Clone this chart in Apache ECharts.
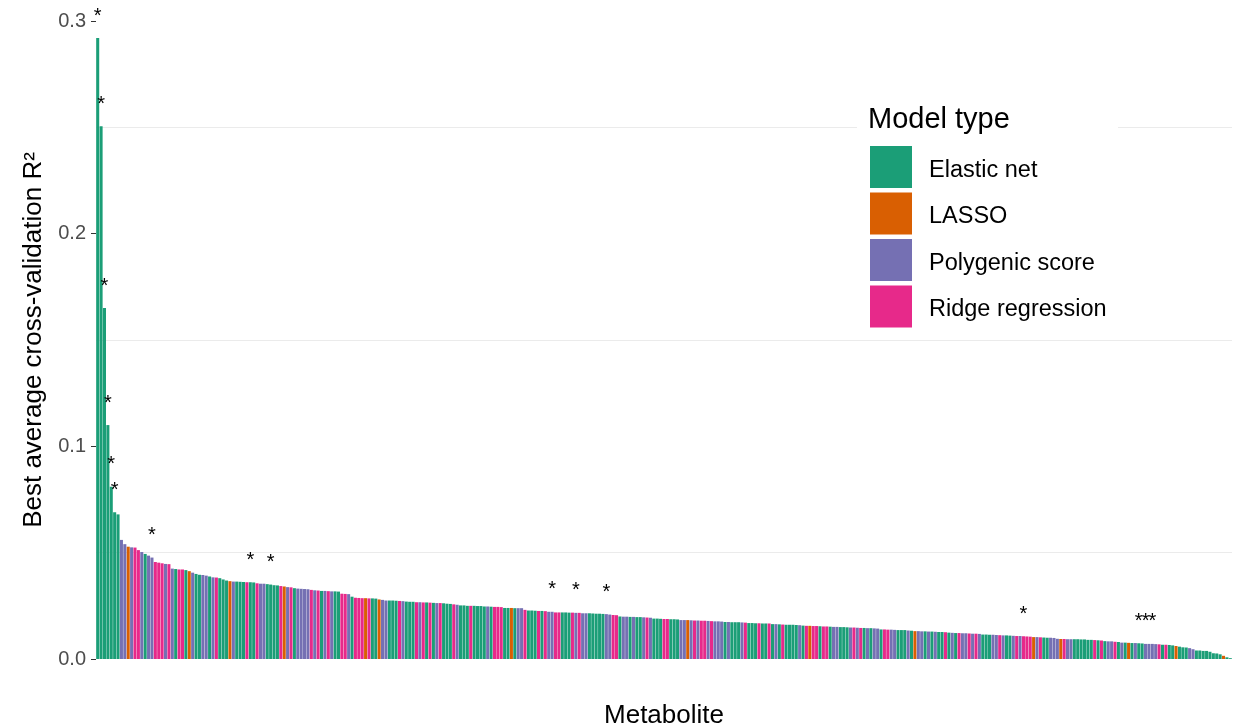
<!DOCTYPE html>
<html lang="en">
<head>
<meta charset="UTF-8">
<title>Best average cross-validation R2 by metabolite</title>
<script src="https://cdn.jsdelivr.net/npm/echarts@6/dist/echarts.min.js"></script>
<style>html, body { margin: 0; padding: 0; background: #fff; }</style>
</head>
<body>
<div id="main" style="width: 1236px; height: 727px;"></div>

<script type="text/javascript">
    // best cv R2 per metabolite, sorted descending
    var values = [
        0.292, 0.2505, 0.165, 0.110, 0.081, 0.069, 0.068, 0.056, 0.054, 0.0528,
        0.0525, 0.0524, 0.0512, 0.0503, 0.0494, 0.0486, 0.0477, 0.0456, 0.0453, 0.0450,
        0.0447, 0.0446, 0.0425, 0.0423, 0.0421, 0.0421, 0.0418, 0.0413, 0.0406, 0.0400,
        0.0396, 0.0395, 0.0392, 0.0388, 0.0384, 0.0383, 0.0380, 0.0374, 0.0369, 0.0366,
        0.0364, 0.0364, 0.0363, 0.0362, 0.0361, 0.0361, 0.0360, 0.0356, 0.0354, 0.0354,
        0.0352, 0.0350, 0.0347, 0.0346, 0.0343, 0.0341, 0.0338, 0.0337, 0.0333, 0.0331,
        0.0330, 0.0329, 0.0328, 0.0325, 0.0323, 0.0322, 0.0320, 0.0320, 0.0319, 0.0318,
        0.0318, 0.0317, 0.0307, 0.0306, 0.0305, 0.0293, 0.0288, 0.0287, 0.0286, 0.0286,
        0.0285, 0.0285, 0.0284, 0.0280, 0.0278, 0.0275, 0.0275, 0.0275, 0.0274, 0.0273,
        0.0272, 0.0270, 0.0269, 0.0269, 0.0267, 0.0267, 0.0266, 0.0266, 0.0265, 0.0264,
        0.0263, 0.0263, 0.0262, 0.0260, 0.0259, 0.0257, 0.0255, 0.0252, 0.0252, 0.0250,
        0.0250, 0.0250, 0.0249, 0.0249, 0.0247, 0.0247, 0.0246, 0.0245, 0.0245, 0.0244,
        0.0240, 0.0240, 0.0240, 0.0239, 0.0239, 0.0239, 0.0231, 0.0228, 0.0228, 0.0227,
        0.0226, 0.0226, 0.0225, 0.0222, 0.0222, 0.0219, 0.0219, 0.0219, 0.0219, 0.0218,
        0.0218, 0.0217, 0.0217, 0.0215, 0.0215, 0.0215, 0.0214, 0.0213, 0.0213, 0.0212,
        0.0211, 0.0209, 0.0207, 0.0206, 0.0200, 0.0199, 0.0199, 0.0198, 0.0198, 0.0197,
        0.0197, 0.0196, 0.0195, 0.0194, 0.0190, 0.0190, 0.0189, 0.0188, 0.0188, 0.0187,
        0.0187, 0.0186, 0.0183, 0.0183, 0.0183, 0.0182, 0.0181, 0.0181, 0.0180, 0.0180,
        0.0179, 0.0178, 0.0177, 0.0177, 0.0176, 0.0174, 0.0174, 0.0173, 0.0173, 0.0173,
        0.0172, 0.0171, 0.0169, 0.0169, 0.0168, 0.0168, 0.0167, 0.0167, 0.0167, 0.0164,
        0.0164, 0.0163, 0.0162, 0.0161, 0.0161, 0.0161, 0.0160, 0.0159, 0.0157, 0.0156,
        0.0156, 0.0155, 0.0155, 0.0154, 0.0153, 0.0153, 0.0152, 0.0151, 0.0151, 0.0150,
        0.0150, 0.0149, 0.0148, 0.0148, 0.0147, 0.0146, 0.0146, 0.0145, 0.0145, 0.0144,
        0.0143, 0.0139, 0.0139, 0.0138, 0.0138, 0.0137, 0.0136, 0.0136, 0.0136, 0.0134,
        0.0133, 0.0131, 0.0131, 0.0130, 0.0130, 0.0129, 0.0129, 0.0128, 0.0127, 0.0127,
        0.0126, 0.0124, 0.0123, 0.0122, 0.0122, 0.0121, 0.0121, 0.0120, 0.0119, 0.0119,
        0.0118, 0.0115, 0.0115, 0.0114, 0.0114, 0.0113, 0.0112, 0.0111, 0.0111, 0.0110,
        0.0109, 0.0108, 0.0108, 0.0107, 0.0106, 0.0105, 0.0103, 0.0103, 0.0102, 0.0101,
        0.0100, 0.0100, 0.0099, 0.0095, 0.0094, 0.0094, 0.0093, 0.0093, 0.0093, 0.0093,
        0.0092, 0.0092, 0.0090, 0.0090, 0.0089, 0.0088, 0.0087, 0.0084, 0.0083, 0.0083,
        0.0081, 0.0080, 0.0077, 0.0077, 0.0076, 0.0075, 0.0075, 0.0074, 0.0073, 0.0071,
        0.0071, 0.0071, 0.0070, 0.0069, 0.0067, 0.0067, 0.0066, 0.0064, 0.0061, 0.0058,
        0.0055, 0.0054, 0.0051, 0.0046, 0.0040, 0.0040, 0.0038, 0.0038, 0.0034, 0.0027,
        0.0026, 0.0022, 0.0015, 0.0008, 0.0004
    ];

    // model type per bar: E = elastic net, L = LASSO, P = polygenic score, R = ridge
    var models = (
        "EEEEEEEPPLPRRPEPPRRRPRPERRELPEEPPEPREEELPEEEREERPPEEEERLPREPPP" +
        "PRPREPRPEERRPERRRLREELPPEEERPEEERPREREPREEERPEEEREEEEPERRREELEPPREEERE" +
        "RPPRREEERPRPPEEEEEPPRREPPEPEEPRPEEERREEEPPLPRPRRPRPPPEPEEEPREEEREEREPE" +
        "REEEEPERLRRERREPPEEEPRPREPEPPERRPPEEEPELPPEPEPEEREPERPPRPRPEEEPPRPEEPR" +
        "PRRRLPREEPPPLRPPEEEEEEREREPPREPELEPEEPPPPREREELEEEPPEEEEEEEELEE"
    ).split("");

    // metabolites marked with an asterisk
    var starred = [0, 1, 2, 3, 4, 5, 16, 45, 51, 134, 141, 150, 273, 307, 309, 311];

    var modelKeys = ['E', 'L', 'P', 'R'];
    var modelNames = ['Elastic net', 'LASSO', 'Polygenic score', 'Ridge regression'];
    var modelColors = ['#1B9E77', '#D95F02', '#7570B3', '#E7298A'];

    var metabolites = values.map(function (v, i) { return 'M' + (i + 1); });

    var myChart = echarts.init(document.getElementById('main'));

    var series = modelKeys.map(function (key, k) {
        return {
            name: modelNames[k],
            type: 'bar',
            barGap: '-100%',
            barCategoryGap: '10%',
            itemStyle: {color: modelColors[k]},
            label: {
                show: false,
                position: 'top',
                distance: 12,
                formatter: '*',
                color: '#000',
                fontSize: 20
            },
            data: values.map(function (v, i) {
                if (models[i] !== key) return '-';
                if (starred.indexOf(i) >= 0) return {value: v, label: {show: true}};
                return v;
            })
        };
    });

    var option = {
        animation: false,
        textStyle: {fontFamily: 'Liberation Sans, Arial, sans-serif'},
        grid: {left: 96, right: 4, top: 21, bottom: 68, outerBoundsMode: 'none'},
        title: {
            text: 'Model type',
            left: 868,
            top: 105,
            padding: 0,
            textStyle: {fontSize: 29, fontWeight: 'normal', color: '#000'}
        },
        legend: {
            orient: 'vertical',
            left: 870,
            top: 146,
            padding: 0,
            itemWidth: 42,
            itemHeight: 42,
            itemGap: 4.5,
            icon: 'rect',
            selectedMode: false,
            formatter: '{t|{name}}',
            textStyle: {
                color: '#000',
                padding: [0, 0, 0, 12],
                rich: {t: {fontSize: 23.5, color: '#000', padding: [7, 0, 0, 0]}}
            },
            data: modelNames
        },
        graphic: [{
            type: 'rect',
            left: 857,
            top: 100,
            z: 3,
            shape: {width: 261, height: 235},
            style: {fill: '#fff'}
        }],
        xAxis: {
            type: 'category',
            data: metabolites,
            axisLine: {show: false},
            axisTick: {show: false},
            axisLabel: {show: false},
            name: 'Metabolite',
            nameLocation: 'middle',
            nameGap: 44,
            nameMoveOverlap: false,
            nameTextStyle: {fontSize: 26, color: '#000'}
        },
        yAxis: {
            type: 'value',
            min: 0,
            max: 0.3,
            interval: 0.1,
            axisLine: {show: false},
            axisTick: {show: true, length: 5, lineStyle: {color: '#333'}},
            axisLabel: {
                fontSize: 20,
                color: '#4D4D4D',
                margin: 10,
                formatter: function (v) { return v.toFixed(1); }
            },
            splitLine: {show: false},
            minorTick: {show: false, splitNumber: 2},
            minorSplitLine: {show: true, lineStyle: {color: '#EBEBEB', width: 1}},
            name: 'Best average cross-validation R²',
            nameLocation: 'middle',
            nameGap: 49,
            nameMoveOverlap: false,
            nameTextStyle: {fontSize: 26, color: '#000'}
        },
        series: series
    };

    myChart.setOption(option);
</script>
</body>
</html>
